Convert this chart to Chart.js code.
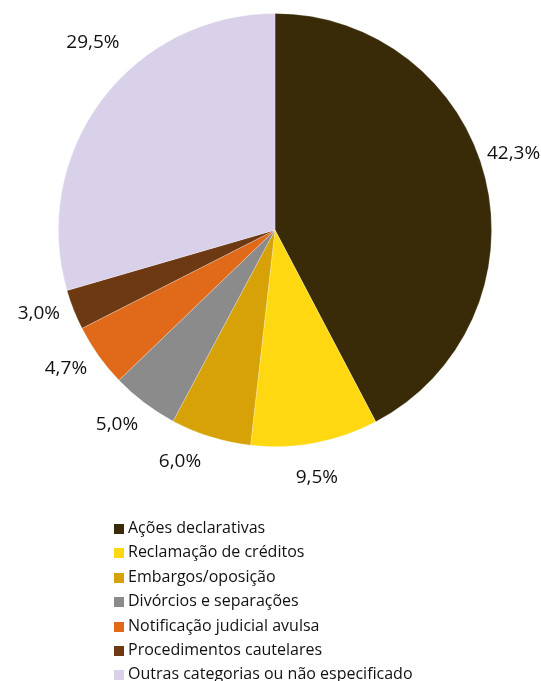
<!DOCTYPE html>
<html>
<head>
<meta charset="utf-8">
<script src="https://cdn.jsdelivr.net/npm/chart.js@4/dist/chart.umd.min.js"></script>
<style>
  html, body { margin: 0; padding: 0; background: #fff; }
  #wrap { position: relative; width: 541px; height: 681px; overflow: hidden; }
  #legend { position: absolute; left: 114px; top: 515px; font-family: "Open Sans", sans-serif; font-size: 16px; color: #111; }
  #legend div { height: 24.4px; line-height: 24px; white-space: nowrap; }
  #legend span { display: inline-block; width: 10px; height: 10px; margin-right: 4px; vertical-align: -1px; }
</style>
</head>
<body>
<div id="wrap">
  <canvas id="chart" width="541" height="681"></canvas>
  <div id="legend"></div>
</div>
<script>
const categories = [
  'Ações declarativas',
  'Reclamação de créditos',
  'Embargos/oposição',
  'Divórcios e separações',
  'Notificação judicial avulsa',
  'Procedimentos cautelares',
  'Outras categorias ou não especificado'
];
const shares = [42.3, 9.5, 6.0, 5.0, 4.7, 3.0, 29.5];
const colors = ['#392b07', '#ffd811', '#d6a207', '#8b8b8b', '#e06a1a', '#6d3912', '#d9d0e9'];

// excel "best fit" labels sit a little off the slice middle
const labelShift = [-4, 1, 5, 2, 2, 2, 9];

const outsideLabels = {
  id: 'outsideLabels',
  afterDatasetsDraw(chart) {
    const ctx = chart.ctx;
    const meta = chart.getDatasetMeta(0);
    ctx.save();
    ctx.font = '19px "Open Sans", sans-serif';
    ctx.fillStyle = '#111';
    ctx.textAlign = 'center';
    ctx.textBaseline = 'middle';
    meta.data.forEach((arc, i) => {
      const a = (arc.startAngle + arc.endAngle) / 2 + labelShift[i] * Math.PI / 180;
      const r = arc.outerRadius + (i === 6 ? 45 : 34);
      const txt = shares[i].toFixed(1).replace('.', ',') + '%';
      ctx.fillText(txt, arc.x + Math.cos(a) * r, arc.y + Math.sin(a) * r);
    });
    ctx.restore();
  }
};

new Chart(document.getElementById('chart'), {
  type: 'pie',
  data: {
    labels: categories,
    datasets: [{
      data: shares,
      backgroundColor: colors,
      borderColor: 'rgba(255,255,255,0.35)',
      borderWidth: 0.75,
      hoverOffset: 0
    }]
  },
  options: {
    responsive: false,
    animation: false,
    layout: { padding: { left: 58, right: 49, top: 13, bottom: 234 } },
    plugins: {
      legend: { display: false },
      tooltip: { enabled: false }
    }
  },
  plugins: [outsideLabels]
});

const legend = document.getElementById('legend');
categories.forEach((c, i) => {
  const row = document.createElement('div');
  const box = document.createElement('span');
  box.style.background = colors[i];
  row.appendChild(box);
  row.appendChild(document.createTextNode(c));
  legend.appendChild(row);
});
</script>
</body>
</html>
